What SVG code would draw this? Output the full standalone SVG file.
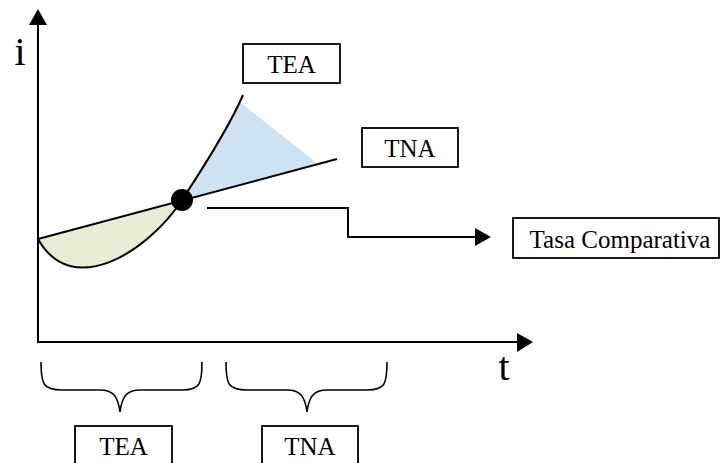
<svg xmlns="http://www.w3.org/2000/svg" width="720" height="463" viewBox="0 0 720 463">
<style>
.ln{fill:none;stroke:#000;stroke-width:2}
.br{fill:none;stroke:#000;stroke-width:1.6}
.box{fill:#fff;stroke:#000;stroke-width:1.8}
.lbl{font-family:"Liberation Serif","Times New Roman",serif;font-size:25px;fill:#000;text-anchor:middle}
.ax{font-family:"Liberation Serif","Times New Roman",serif;font-size:40px;fill:#000;text-anchor:middle}
</style>
<rect width="720" height="463" fill="#fff"/>
<g id="areas">
<path d="M38,239 C72,300 148,252 182,200 Z" fill="#e8eed5"/>
<path d="M182,200 C200,174 226,133 240,102 L318,164 Z" fill="#cfe2f3"/>
</g>
<g id="axes">
<line class="ln" x1="38" y1="342" x2="38" y2="24"/>
<polygon points="38,9 29,25 47,25" fill="#000"/>
<line class="ln" x1="37" y1="342" x2="518" y2="342"/>
<polygon points="533,342 517,333 517,352" fill="#000"/>
<text class="ax" x="20" y="65">i</text>
<text class="ax" x="504" y="380">t</text>
</g>
<g id="curves">
<path id="tna-line" class="ln" d="M38,239 L337,159"/>
<path id="tea-curve" class="ln" d="M38,239 C72,300 148,252 182,200 C199,174 228,130 243,95"/>
<circle id="intersection" cx="182" cy="200" r="11" fill="#000"/>
</g>
<g id="connectors">
<path class="ln" d="M207,208 H348 V237 H476"/>
<polygon points="491,237 475,228 475,246" fill="#000"/>
</g>
<g id="braces">
<path class="br" d="M41,362 C41,384 43,390 62,390 H100 C113,390 118,396 120,412 C122,396 127,390 140,390 H182 C200,390 202,384 202,362"/>
<path class="br" d="M226,362 C226,384 228,390 247,390 H287 C300,390 305,396 307,412 C309,396 314,390 327,390 H367 C385,390 387,384 387,362"/>
</g>
<g id="node-tea-top">
<rect class="box" x="243" y="44" width="97" height="39"/>
<text class="lbl" x="291.5" y="73">TEA</text>
</g>
<g id="node-tna-top">
<rect class="box" x="362" y="128" width="96" height="39"/>
<text class="lbl" x="410" y="157">TNA</text>
</g>
<g id="node-tasa">
<rect class="box" x="513" y="218" width="206" height="40"/>
<text class="lbl" x="620" y="248">Tasa Comparativa</text>
</g>
<g id="node-tea-bottom">
<rect class="box" x="75" y="426" width="97" height="45"/>
<text class="lbl" x="123.5" y="455">TEA</text>
</g>
<g id="node-tna-bottom">
<rect class="box" x="262" y="426" width="96" height="45"/>
<text class="lbl" x="310" y="455">TNA</text>
</g>
</svg>
